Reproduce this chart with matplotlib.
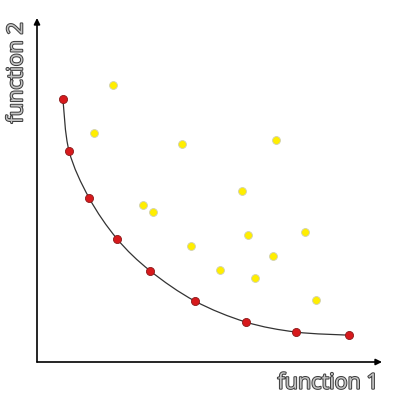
import matplotlib
matplotlib.use("Agg")
import matplotlib.pyplot as plt
import matplotlib.patheffects as pe
from matplotlib.path import Path
from matplotlib.patches import PathPatch
import numpy as np

# Pareto front (red) and dominated solutions (yellow)
front_x = [0.75, 0.93, 1.51, 2.32, 3.28, 4.58, 6.06, 7.51, 9.04]
front_y = [7.65, 6.13, 4.77, 3.58, 2.65, 1.77, 1.16, 0.87, 0.78]

other_x = [2.20, 1.65, 4.20, 6.93, 5.94, 3.07, 3.36, 6.12, 7.77, 4.46, 6.84, 5.30, 6.32, 8.09]
other_y = [8.05, 6.66, 6.34, 6.45, 4.97, 4.56, 4.36, 3.69, 3.78, 3.37, 3.08, 2.67, 2.44, 1.80]

x_label = "function 1"
y_label = "function 2"


def smooth_path(xs, ys):
    # Catmull-Rom -> cubic Bezier through the front points
    pts = np.column_stack([xs, ys])
    verts = [pts[0]]
    codes = [Path.MOVETO]
    n = len(pts)
    for i in range(n - 1):
        p0 = pts[i - 1] if i > 0 else pts[i]
        p1 = pts[i]
        p2 = pts[i + 1]
        p3 = pts[i + 2] if i + 2 < n else pts[i + 1]
        c1 = p1 + (p2 - p0) / 6.0
        c2 = p2 - (p3 - p1) / 6.0
        verts += [c1, c2, p2]
        codes += [Path.CURVE4] * 3
    return Path(verts, codes)


fig = plt.figure(figsize=(4, 4), dpi=100)
ax = fig.add_axes([0.0925, 0.095, 0.8625, 0.86])
ax.set_xlim(0, 10)
ax.set_ylim(0, 10)
for s in ax.spines.values():
    s.set_visible(False)
ax.set_xticks([])
ax.set_yticks([])

# axes with arrows
ax.annotate("", xy=(1, 0), xytext=(0, 0), xycoords="axes fraction",
            arrowprops=dict(arrowstyle="-|>", color="black", lw=1.2,
                            mutation_scale=9, shrinkA=0, shrinkB=0))
ax.annotate("", xy=(0, 1), xytext=(0, 0), xycoords="axes fraction",
            arrowprops=dict(arrowstyle="-|>", color="black", lw=1.2,
                            mutation_scale=9, shrinkA=0, shrinkB=0))

ax.add_patch(PathPatch(smooth_path(front_x, front_y), facecolor="none",
                       edgecolor="#333333", lw=0.9, zorder=2))

ax.scatter(other_x, other_y, s=32, color="#ffee00", edgecolors="#d0d0b0",
           linewidths=0.6, zorder=3)
ax.scatter(front_x, front_y, s=34, color="#d7191c", edgecolors="#8a1a1a",
           linewidths=0.6, zorder=4)

outline = [pe.withStroke(linewidth=1.4, foreground="#3a3a3a")]
fig.text(0.947, 0.042, x_label, ha="right", va="center", fontsize=15.5,
         color="#c4c4c4", family="Open Sans", path_effects=outline)
fig.text(0.042, 0.818, y_label, ha="center", va="center", rotation=90,
         fontsize=15.5, color="#c4c4c4", family="Open Sans", path_effects=outline)

fig.savefig("out.png", dpi=100)
